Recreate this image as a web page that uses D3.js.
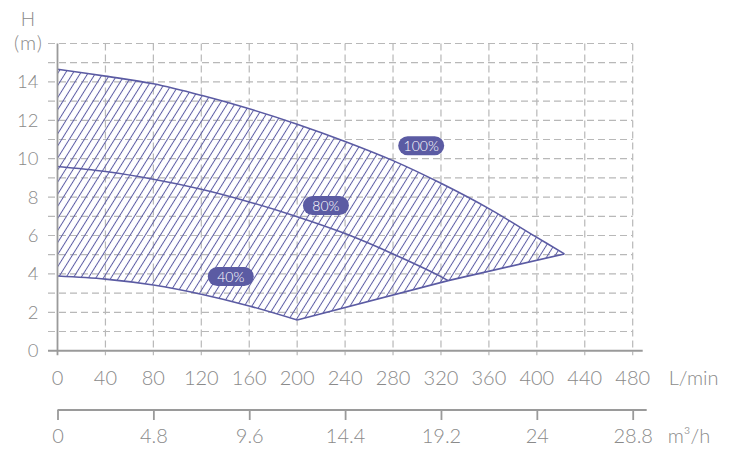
<!DOCTYPE html>
<html>
<head>
<meta charset="utf-8">
<script src="https://cdn.jsdelivr.net/npm/d3@7"></script>
<style>
  body { margin: 0; background: #fff; }
  text { font-family: Lato, "Noto Sans", sans-serif; font-weight: 300; }
</style>
</head>
<body>
<svg id="chart" width="746" height="449"></svg>
<script>
// pump curve chart: H (m) against flow (L/min, m3/h)

// flow in L/min and head in m
const q100 = [0, 40, 80, 120, 160, 200, 240, 280, 320, 360, 400, 423];
const h100 = [14.66, 14.3, 13.9, 13.3, 12.6, 11.8, 10.9, 9.9, 8.72, 7.4, 5.9, 5.04];

const q80 = [0, 40, 80, 120, 160, 200, 240, 280, 320, 326];
const h80 = [9.59, 9.33, 8.93, 8.41, 7.75, 6.98, 6.1, 5.04, 3.86, 3.65];

const q40 = [0, 40, 80, 120, 160, 200];
const h40 = [3.89, 3.73, 3.42, 2.94, 2.33, 1.6];

// lower edge of the working area (min point of 40% to end of 100%)
const qLow = [200, 326, 423];
const hLow = [1.6, 3.65, 5.04];

const labelText = ["100%", "80%", "40%"];
const labelQ = [303.5, 224, 144.6];
const labelH = [10.67, 7.56, 3.86];

const qTicks = [0, 40, 80, 120, 160, 200, 240, 280, 320, 360, 400, 440, 480];
const hTicks = [0, 2, 4, 6, 8, 10, 12, 14];
const m3Ticks = [0, 4.8, 9.6, 14.4, 19.2, 24, 28.8];

const purple = "#5b5ba3",
      axisGrey = "#9a9a9a",
      gridGrey = "#b8b8b8",
      textGrey = "#8a8a8a";

const margin = {top: 43.5, left: 57.5, right: 113.3, bottom: 98.3};
const svg = d3.select("#chart"),
      width = +svg.attr("width"),
      height = +svg.attr("height"),
      innerW = width - margin.left - margin.right,
      innerH = height - margin.top - margin.bottom;

const x = d3.scaleLinear().domain([0, 480]).range([0, innerW]);
const y = d3.scaleLinear().domain([0, 16]).range([innerH, 0]);
const xm3 = d3.scaleLinear().domain([0, 28.8]).range([0, innerW]);

const zip = (qs, hs) => qs.map((q, i) => [q, hs[i]]);
const line = d3.line().x(d => x(d[0])).y(d => y(d[1])).curve(d3.curveCatmullRom.alpha(0.5));
const straight = d3.line().x(d => x(d[0])).y(d => y(d[1]));

// hatch pattern
const defs = svg.append("defs");
defs.append("pattern")
	.attr("id", "hatch")
	.attr("patternUnits", "userSpaceOnUse")
	.attr("width", 6.4)
	.attr("height", 10)
	.attr("patternTransform", "rotate(32)")
	.append("line")
	.attr("x1", 3.2).attr("y1", -1)
	.attr("x2", 3.2).attr("y2", 11)
	.attr("stroke", purple)
	.attr("stroke-width", 1);

const g = svg.append("g")
	.attr("transform", `translate(${margin.left},${margin.top})`);

// grid, horizontal every 1 m
g.append("g")
	.selectAll("line")
	.data(d3.range(1, 17))
	.join("line")
	.attr("x1", -9.5).attr("x2", x(480))
	.attr("y1", d => y(d)).attr("y2", d => y(d))
	.attr("stroke", gridGrey)
	.attr("stroke-width", 1.2)
	.attr("stroke-dasharray", "7,4");

// grid, vertical every 40 L/min
g.append("g")
	.selectAll("line")
	.data(qTicks.slice(1))
	.join("line")
	.attr("x1", d => x(d)).attr("x2", d => x(d))
	.attr("y1", 0).attr("y2", innerH + 4.5)
	.attr("stroke", gridGrey)
	.attr("stroke-width", 1.2)
	.attr("stroke-dasharray", "7,4");

// hatched working area: top curve, lower edge back, 40% curve back
const upperPath = line(zip(q100, h100));
const lowPath = straight(zip(qLow, hLow).reverse()).replace(/^M/, "L");
const minPath = line(zip(q40, h40).reverse()).replace(/^M/, "L");
g.append("path")
	.attr("d", upperPath + lowPath + minPath + "Z")
	.attr("fill", "url(#hatch)");

// curves
const curves = [zip(q100, h100), zip(q80, h80), zip(q40, h40)];
g.selectAll(".curve")
	.data(curves)
	.join("path")
	.attr("class", "curve")
	.attr("d", line)
	.attr("fill", "none")
	.attr("stroke", purple)
	.attr("stroke-width", 1.6);

g.append("path")
	.attr("d", straight(zip(qLow, hLow)))
	.attr("fill", "none")
	.attr("stroke", purple)
	.attr("stroke-width", 1.6);

// axis lines
g.append("line")
	.attr("x1", 0).attr("x2", 0)
	.attr("y1", 0).attr("y2", innerH + 4.5)
	.attr("stroke", axisGrey).attr("stroke-width", 1.8);
g.append("line")
	.attr("x1", -9.5).attr("x2", x(480) + 10)
	.attr("y1", innerH).attr("y2", innerH)
	.attr("stroke", axisGrey).attr("stroke-width", 2);

// y tick labels
g.append("g")
	.selectAll("text")
	.data(hTicks)
	.join("text")
	.attr("x", -19)
	.attr("y", d => y(d) + 6.5)
	.attr("text-anchor", "end")
	.style("font-size", "18.5px")
	.attr("fill", textGrey)
	.text(d => d);

svg.append("text")
	.attr("x", 28).attr("y", 26)
	.attr("text-anchor", "middle")
	.style("font-size", "19px")
	.attr("fill", textGrey)
	.text("H");
svg.append("text")
	.attr("x", 28.5).attr("y", 50)
	.attr("text-anchor", "middle")
	.style("font-size", "20px")
	.style("letter-spacing", "1px")
	.attr("fill", textGrey)
	.text("(m)");

// x tick labels, L/min
g.append("g")
	.selectAll("text")
	.data(qTicks)
	.join("text")
	.attr("x", d => x(d))
	.attr("y", innerH + 34)
	.attr("text-anchor", "middle")
	.style("font-size", "20px")
	.attr("fill", textGrey)
	.text(d => d);

g.append("text")
	.attr("x", x(480) + 36)
	.attr("y", innerH + 34)
	.style("font-size", "20px")
	.attr("fill", textGrey)
	.text("L/min");

// second axis, m3/h
const axM3 = g.append("g")
	.attr("transform", `translate(0,${innerH + 59.3})`)
	.call(d3.axisBottom(xm3).tickValues(m3Ticks).tickSize(10).tickSizeOuter(0).tickFormat(d => d));
axM3.select(".domain").remove();
axM3.append("line")
	.attr("x1", 0).attr("x2", x(480) + 14)
	.attr("stroke", axisGrey).attr("stroke-width", 2);
axM3.selectAll(".tick line").attr("stroke", axisGrey).attr("stroke-width", 1.8);
axM3.selectAll(".tick text")
	.attr("y", 33).attr("dy", 0)
	.style("font-size", "20px")
	.style("font-family", "Lato, 'Noto Sans', sans-serif")
	.attr("fill", textGrey);

g.append("text")
	.attr("x", x(480) + 35)
	.attr("y", innerH + 92.3)
	.style("font-size", "20px")
	.attr("fill", textGrey)
	.text("m\u00b3/h");

// pill labels
const pills = g.selectAll(".pill")
	.data(labelText)
	.join("g")
	.attr("class", "pill")
	.attr("transform", (d, i) => `translate(${x(labelQ[i])},${y(labelH[i])})`);
pills.append("rect")
	.attr("x", -23).attr("y", -9.5)
	.attr("width", 46).attr("height", 19)
	.attr("rx", 9.5)
	.attr("fill", purple);
pills.append("text")
	.attr("text-anchor", "middle")
	.attr("y", 5)
	.style("font-size", "14px")
	.attr("fill", "#fff")
	.text(d => d);
</script>
</body>
</html>
